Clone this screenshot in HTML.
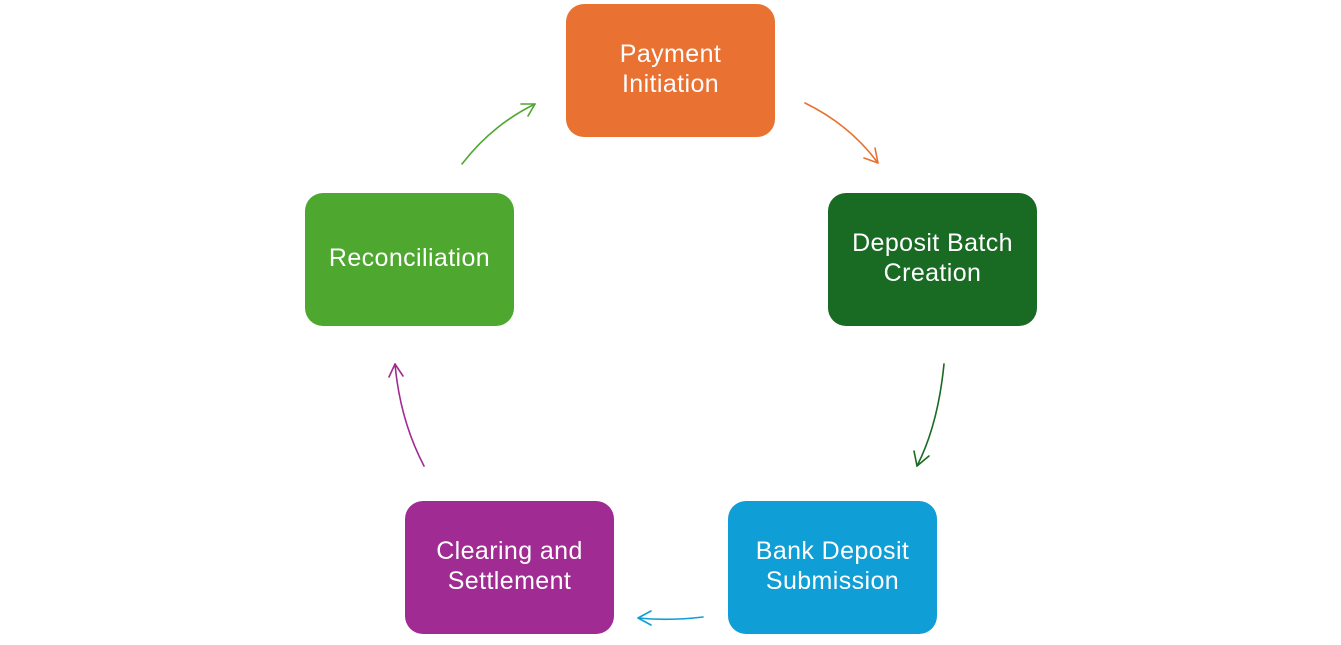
<!DOCTYPE html>
<html><head><meta charset="utf-8"><style>
html,body{margin:0;padding:0;background:#fff;width:1341px;height:645px;overflow:hidden}
.b{position:absolute;width:209px;height:133px;border-radius:18px;color:#fff;display:flex;align-items:center;justify-content:center;text-align:center;font-family:"Liberation Sans",sans-serif;font-size:25px;letter-spacing:0.4px;line-height:30px;padding-bottom:4px;box-sizing:border-box}
svg{position:absolute;left:0;top:0}
</style></head><body>
<div class="b" style="left:566px;top:4px;background:#E97132">Payment<br>Initiation</div>
<div class="b" style="left:828px;top:193px;background:#196B24">Deposit Batch<br>Creation</div>
<div class="b" style="left:728px;top:501px;background:#0F9ED5">Bank Deposit<br>Submission</div>
<div class="b" style="left:405px;top:501px;background:#A02B93">Clearing and<br>Settlement</div>
<div class="b" style="left:305px;top:193px;background:#4EA72E">Reconciliation</div>
<svg width="1341" height="645" fill="none" stroke-width="1.6" stroke-linecap="round" stroke-linejoin="round">
<g stroke="#E97132"><path d="M805 103 Q850 125 878 163"/><path d="M864 158 L878 163 L875 148"/></g>
<g stroke="#196B24"><path d="M944 364 Q938 425 917 466"/><path d="M914 451 L917 466 L929 456"/></g>
<g stroke="#0F9ED5"><path d="M703 617 Q670 621 638 618"/><path d="M651 611 L638 618 L651 625"/></g>
<g stroke="#A02B93"><path d="M424 466 Q400 420 395 364"/><path d="M389 377 L395 364 L403 376"/></g>
<g stroke="#4EA72E"><path d="M462 164 Q492 125 535 104"/><path d="M521 104 L535 104 L528 116"/></g>
</svg>
</body></html>
